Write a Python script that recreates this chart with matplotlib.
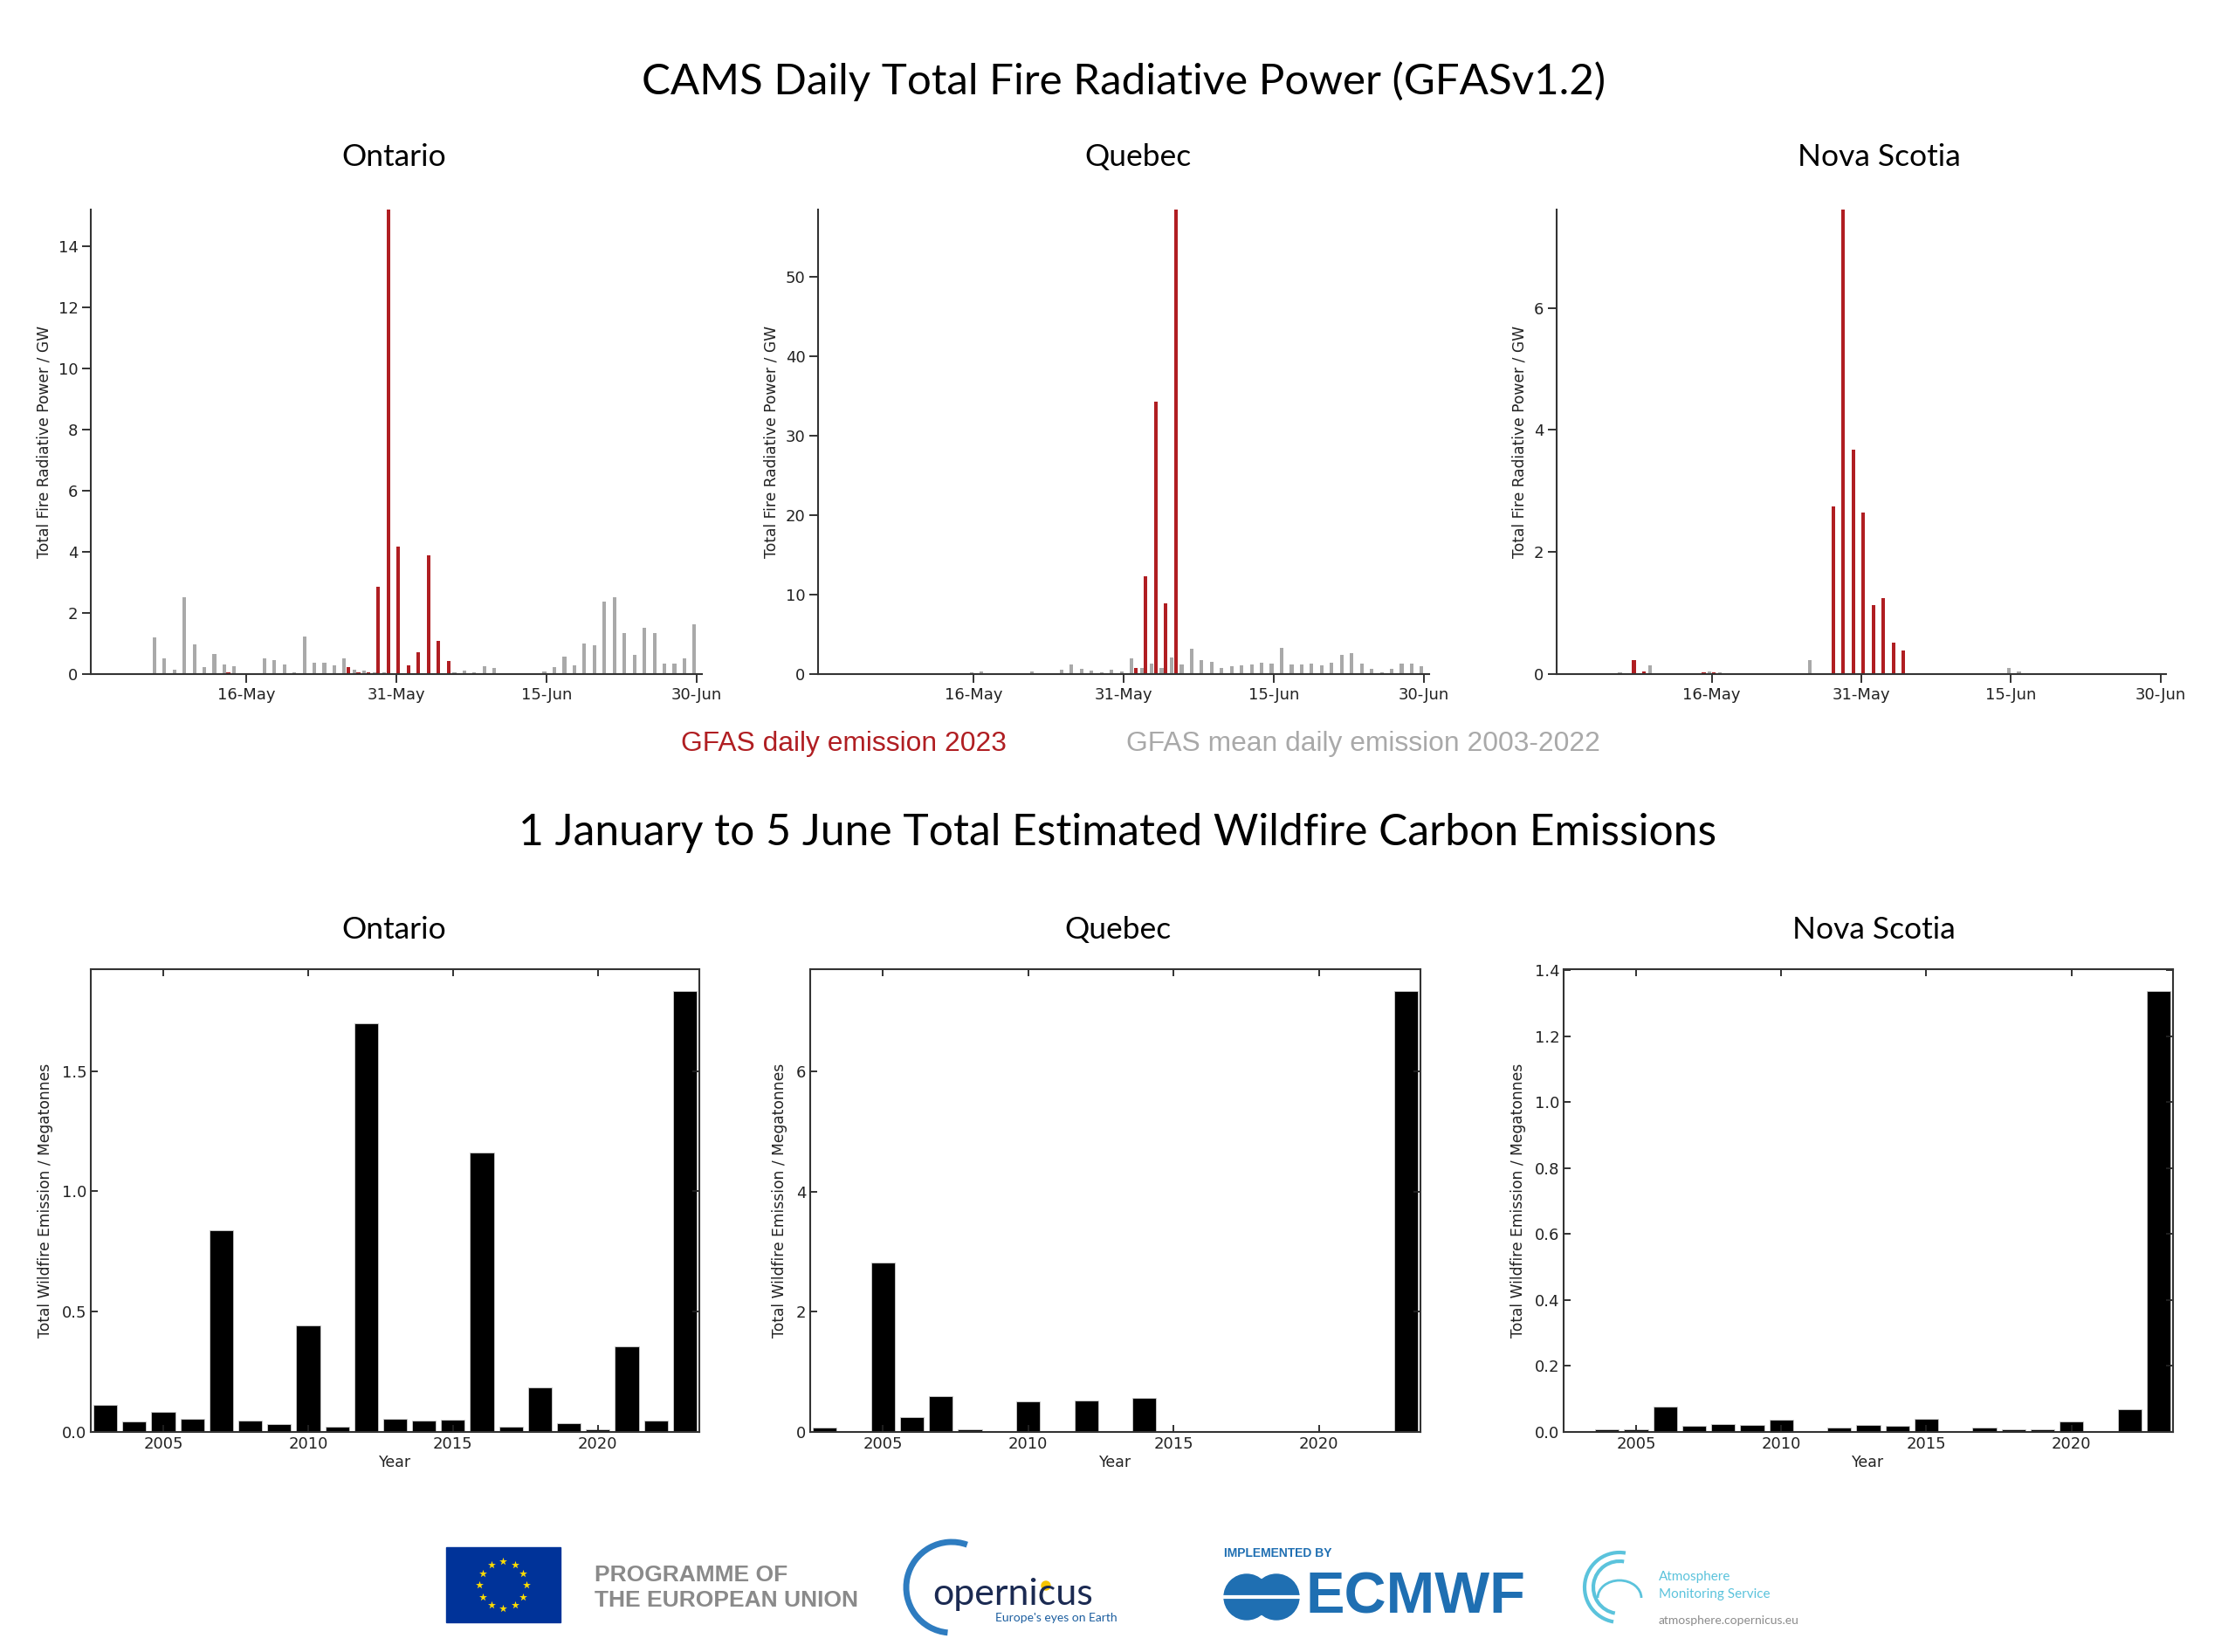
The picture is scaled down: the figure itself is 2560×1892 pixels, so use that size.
import numpy as np
import matplotlib.pyplot as plt
from matplotlib.patches import Rectangle, Arc, Circle

plt.rcParams['font.family'] = ['DejaVu Sans']

# ---- top row: daily FRP, day index 0 = 1 May ... 60 = 30 Jun
days = np.arange(61)
days_2023 = np.arange(36)  # 2023 data runs to 5 June
day_ticks = [15, 30, 45, 60]
day_labels = ['16-May', '31-May', '15-Jun', '30-Jun']

ontario_mean = [0, 0, 0, 0, 0, 0.03, 1.21, 0.51, 0.15, 2.51,
                0.98, 0.24, 0.66, 0.32, 0.25, 0.03, 0, 0.52, 0.46, 0.32,
                0.05, 1.22, 0.37, 0.36, 0.28, 0.52, 0.15, 0.10, 0.05, 0.05,
                0.02, 0.02, 0.02, 0.02, 0.02, 0.02, 0.05, 0.11, 0.07, 0.27,
                0.20, 0.02, 0, 0, 0.04, 0.09, 0.22, 0.57, 0.29, 0.99,
                0.95, 2.36, 2.50, 1.35, 0.62, 1.52, 1.34, 0.33, 0.33, 0.50,
                1.63]
ontario_2023 = [0, 0, 0, 0, 0, 0, 0, 0, 0, 0,
                0, 0, 0, 0.07, 0, 0, 0, 0, 0, 0,
                0, 0, 0, 0, 0, 0.24, 0.05, 0.06, 2.87, 15.2,
                4.18, 0.28, 0.72, 3.88, 1.09, 0.44]

quebec_mean = [0, 0, 0, 0, 0, 0, 0, 0, 0, 0,
               0, 0, 0, 0, 0, 0.2, 0.38, 0, 0, 0,
               0, 0.38, 0.1, 0, 0.6, 1.25, 0.7, 0.46, 0.2, 0.5,
               0.35, 2.0, 0.75, 1.34, 0.8, 2.05, 1.17, 3.18, 1.76, 1.5,
               0.8, 0.96, 1.09, 1.25, 1.42, 1.3, 3.3, 1.2, 1.17, 1.34,
               1.05, 1.42, 2.38, 2.6, 1.34, 0.67, 0.2, 0.7, 1.3, 1.3,
               1.0]
quebec_2023 = [0, 0, 0, 0, 0, 0, 0, 0, 0, 0,
               0, 0, 0, 0, 0, 0, 0, 0, 0, 0,
               0, 0, 0, 0, 0, 0, 0, 0, 0, 0,
               0, 0.75, 12.3, 34.2, 8.9, 58.4]

nova_scotia_mean = [0.02, 0.01, 0.01, 0.01, 0.01, 0.01, 0.03, 0.01, 0.01, 0.15,
                    0.01, 0.01, 0.01, 0.01, 0.01, 0.04, 0.03, 0.01, 0.01, 0.01,
                    0.01, 0, 0, 0, 0, 0.23, 0.01, 0.01, 0, 0,
                    0, 0, 0, 0, 0, 0, 0, 0, 0, 0,
                    0, 0, 0, 0, 0, 0.10, 0.04, 0, 0, 0,
                    0, 0, 0, 0, 0, 0, 0, 0, 0, 0.02,
                    0]
nova_scotia_2023 = [0.02, 0, 0, 0, 0, 0, 0, 0.23, 0.05, 0,
                    0, 0, 0, 0, 0.03, 0.03, 0, 0, 0, 0,
                    0, 0, 0, 0, 0, 0, 0, 2.74, 7.61, 3.67,
                    2.64, 1.13, 1.24, 0.52, 0.38, 0]

# ---- bottom row: 1 Jan - 5 Jun totals
years = [2003, 2004, 2005, 2006, 2007, 2008, 2009, 2010, 2011, 2012, 2013,
         2014, 2015, 2016, 2017, 2018, 2019, 2020, 2021, 2022, 2023]
ontario_total = [0.114, 0.042, 0.084, 0.053, 0.839, 0.048, 0.033, 0.442, 0.021, 1.699, 0.054,
                 0.048, 0.051, 1.163, 0.021, 0.184, 0.036, 0.012, 0.357, 0.047, 1.832]
quebec_total = [0.066, 0.005, 2.82, 0.244, 0.598, 0.05, 0.005, 0.504, 0.005, 0.521, 0.005,
                0.565, 0.005, 0.02, 0.02, 0.003, 0.003, 0.003, 0.003, 0.005, 7.33]
nova_scotia_total = [0.001, 0.009, 0.009, 0.077, 0.019, 0.024, 0.02, 0.037, 0.002, 0.012, 0.022,
                     0.018, 0.04, 0.001, 0.013, 0.007, 0.008, 0.032, 0.003, 0.069, 1.336]

regions = ['Ontario', 'Quebec', 'Nova Scotia']
top_yticks = [[0, 2, 4, 6, 8, 10, 12, 14], [0, 10, 20, 30, 40, 50], [0, 2, 4, 6]]
bottom_yticks = [[0.0, 0.5, 1.0, 1.5], [0, 2, 4, 6], [0.0, 0.2, 0.4, 0.6, 0.8, 1.0, 1.2, 1.4]]

RED = '#b01e22'
GREY = '#a9a9a9'
W, H = 2560, 1892

fig = plt.figure(figsize=(25.6, 18.92), dpi=100)


def axes_px(left, top, right, bottom):
    return fig.add_axes([left / W, 1 - bottom / H, (right - left) / W, (bottom - top) / H])


def fig_text(x, y, s, **kw):
    fig.text(x / W, 1 - y / H, s, ha='center', va='center', **kw)


# titles
fig_text(1287, 93, 'CAMS Daily Total Fire Radiative Power (GFASv1.2)', fontsize=35.5, family='Lato')
fig_text(1280, 954, '1 January to 5 June Total Estimated Wildfire Carbon Emissions', fontsize=35.8, family='Lato')
fig_text(966, 852, 'GFAS daily emission 2023', fontsize=22.9, color=RED, family='Liberation Sans')
fig_text(1561, 852, 'GFAS mean daily emission 2003-2022', fontsize=22.9, color=GREY, family='Liberation Sans')

# top row
top_boxes = [(104, 240, 804, 772), (937, 240, 1637, 772), (1783, 240, 2481, 772)]
top_title_x = [451, 1303, 2152]
daily = [(ontario_mean, ontario_2023), (quebec_mean, quebec_2023), (nova_scotia_mean, nova_scotia_2023)]

for box, tx, name, (mean, y23), yt in zip(top_boxes, top_title_x, regions, daily, top_yticks):
    ax = axes_px(*box)
    ax.bar(days - 0.2, mean, width=0.36, color=GREY, linewidth=0)
    ax.bar(days_2023 + 0.2, y23, width=0.36, color=RED, linewidth=0)
    ax.set_xlim(-0.55, 60.55)
    ax.set_ylim(0, max(y23))
    ax.spines[['top', 'right']].set_visible(False)
    for s in ['left', 'bottom']:
        ax.spines[s].set_color('#333333')
        ax.spines[s].set_linewidth(1.5)
    ax.set_xticks(day_ticks, day_labels)
    ax.set_yticks(yt)
    ax.tick_params(direction='out', length=7, width=1.3, labelsize=13, colors='#222222')
    ax.set_ylabel('Total Fire Radiative Power / GW', fontsize=12.3, color='#222222', labelpad=5)
    fig_text(tx, 180, name, fontsize=25.5, family='Lato')

# bottom row
bottom_boxes = [(104, 1110, 801, 1640), (928, 1110, 1627, 1640), (1791, 1110, 2489, 1640)]
bottom_title_x = [451, 1280, 2146]
totals = [ontario_total, quebec_total, nova_scotia_total]

for box, tx, name, vals, yt in zip(bottom_boxes, bottom_title_x, regions, totals, bottom_yticks):
    ax = axes_px(*box)
    ax.bar(years, vals, width=0.82, color='black', edgecolor='#cccccc', linewidth=0.6)
    ax.set_xlim(2002.5, 2023.5)
    ax.set_ylim(0, 1.05 * max(vals))
    for s in ax.spines.values():
        s.set_color('#333333')
        s.set_linewidth(1.5)
    ax.set_xticks([2005, 2010, 2015, 2020])
    ax.set_yticks(yt)
    ax.tick_params(direction='in', top=True, right=True, length=6, width=1.3,
                   labelsize=13, colors='#222222')
    ax.set_xlabel('Year', fontsize=12.5, color='#222222', labelpad=2)
    ax.set_ylabel('Total Wildfire Emission / Megatonnes', fontsize=12.3, color='#222222', labelpad=7)
    fig_text(tx, 1065, name, fontsize=25.5, family='Lato')

# logo strip drawn in pixel units
lg = fig.add_axes([0, 0, 1, 150 / H])
lg.set_xlim(0, W)
lg.set_ylim(H, H - 150)
lg.axis('off')

# EU flag
lg.add_patch(Rectangle((511, 1772), 131, 86, color='#003399'))
ang = np.linspace(0, 2 * np.pi, 13)[:-1]
lg.scatter(576 + 27 * np.cos(ang), 1815 + 27 * np.sin(ang), marker='*', s=45, color='#ffdd00', linewidths=0)
lg.text(681, 1804, 'PROGRAMME OF', fontsize=19, fontweight='bold', color='#8a8a8a',
        family='Liberation Sans', va='center')
lg.text(681, 1833, 'THE EUROPEAN UNION', fontsize=19, fontweight='bold', color='#8a8a8a',
        family='Liberation Sans', va='center')

# Copernicus
lg.add_patch(Arc((1090, 1818), 104, 104, theta1=95, theta2=290, color='#2e7cc0', lw=5))
lg.text(1068, 1826, 'opernicus', fontsize=31, color='#1b2a52', family='Lato', va='center')
lg.add_patch(Circle((1198, 1816), 5, color='#f5c400'))
lg.text(1280, 1853, "Europe's eyes on Earth", fontsize=10, color='#1d5fa0', family='Lato',
        va='center', ha='right')

# ECMWF
lg.text(1402, 1779, 'IMPLEMENTED BY', fontsize=10, fontweight='bold', color='#1f6fb2',
        family='Liberation Sans', va='center')
lg.add_patch(Circle((1428, 1829), 26, color='#1f6fb2'))
lg.add_patch(Circle((1462, 1829), 26, color='#1f6fb2'))
lg.plot([1400, 1490], [1829, 1829], color='white', lw=3)
lg.text(1495, 1830, 'ECMWF', fontsize=48, fontweight='bold', color='#1f6fb2',
        family='Liberation Sans', va='center')

# Atmosphere Monitoring Service
for r in [40, 30]:
    lg.add_patch(Arc((1855, 1818), 2 * r, 2 * r, theta1=100, theta2=280, color='#5bc3dc', lw=3))
lg.add_patch(Arc((1855, 1830), 50, 40, theta1=180, theta2=360, color='#5bc3dc', lw=2))
lg.text(1900, 1806, 'Atmosphere', fontsize=11, color='#5bc3dc', family='Lato', va='center')
lg.text(1900, 1826, 'Monitoring Service', fontsize=11, color='#5bc3dc', family='Lato', va='center')
lg.text(1900, 1856, 'atmosphere.copernicus.eu', fontsize=10, color='#8c8c8c', family='Lato', va='center')

fig.savefig('out.png', dpi=100, facecolor='white')
